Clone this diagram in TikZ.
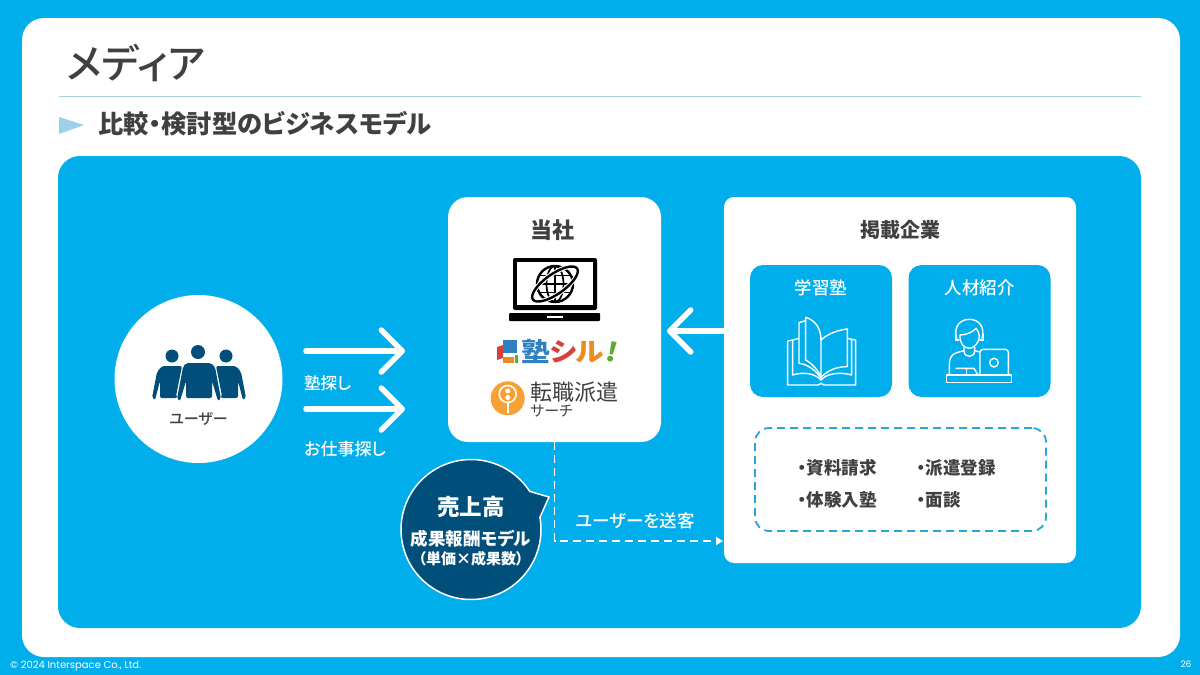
\documentclass[tikz,border=0pt]{standalone}
\usepackage{fontspec}
\usepackage{graphicx}
\setmainfont{Noto Sans CJK JP}[RawFeature={+palt}]
\newfontfamily\medfont{Noto Sans CJK JP Medium}[RawFeature={+palt}]
\newfontfamily\footfont{Poppins}
\usetikzlibrary{arrows.meta}
\definecolor{sky}{HTML}{00AEEB}
\definecolor{ink}{HTML}{404040}
\definecolor{navy}{HTML}{004E7A}
\definecolor{rulec}{HTML}{A6D0E0}
\definecolor{tric}{HTML}{9DCFEE}
\definecolor{dashc}{HTML}{27A6D8}
\definecolor{lblue}{HTML}{2F7FC1}
\definecolor{lred}{HTML}{D9403C}
\definecolor{lorange}{HTML}{EE8A22}
\definecolor{lgreen}{HTML}{5FA83A}
\definecolor{pinc}{HTML}{F7A033}
\newcommand\fsz[1]{\fontsize{#1}{#1}\selectfont}
\tikzset{
  box/.style={rectangle,fill=white,inner sep=0pt},
  bluebox/.style={rectangle,fill=sky,inner sep=0pt,rounded corners=13pt,minimum width=142pt,minimum height=132pt},
  lab/.style={inner sep=0pt,text=ink,font=\bfseries\fsz{#1}},
  wlab/.style={inner sep=0pt,text=white,font=\medfont\fsz{#1}},
  wbold/.style={inner sep=0pt,text=white,font=\bfseries\fsz{#1}},
  bigarrow/.style={draw=white,line width=5.5pt,line cap=round,line join=round,-{Straight Barb[length=21pt,width=42pt,round]}},
  sendline/.style={draw=white,line width=1.9pt,dash pattern=on 8pt off 5pt,-{Triangle[length=7pt,width=8pt]}},
  iconline/.style={draw=white,line width=1.4pt,line join=round,line cap=round},
}
\begin{document}
\begin{tikzpicture}[x=1pt,y=-1pt]
\useasboundingbox (0,0) rectangle (1200,675);
\fill[sky] (0,0) rectangle (1200,675);
\node[box,rounded corners=22pt,minimum width=1158pt,minimum height=639pt] (sheet) at (601,337.5) {};
\node[rectangle,fill=sky,inner sep=0pt,rounded corners=22pt,minimum width=1083pt,minimum height=472pt] (stage) at (599.5,392) {};
% header
\node[inner sep=0pt,text=ink,font=\medfont\fsz{40}] (title) at (136,63) {メディア};
\coordinate (ruleL) at (59,96);
\coordinate (ruleR) at (1141,96);
\draw[rulec,line width=1pt] (ruleL) -- (ruleR);
\fill[tric] (59,117) -- (84,125) -- (59,134) -- cycle;
\node[lab=25.3,anchor=west] (sub) at (98,124) {比較・検討型のビジネスモデル};
% user
\node[circle,fill=white,inner sep=0pt,minimum size=168pt] (user) at (198.5,379) {};
\begin{scope}[fill=navy]
\fill (198,352) circle (7);
\fill (172,356) circle (6.5);
\fill (226,356) circle (6.5);
\fill[rounded corners=2pt] (186,363) -- (211,363) -- (215,367) -- (221,399) -- (218,401) -- (212,381) -- (212,398) -- (186,398) -- (186,381) -- (180,401) -- (177,399) -- (183,367) -- cycle;
\fill[rounded corners=2pt] (162,366) -- (182,366) -- (176,396) -- (177,398) -- (160,398) -- (160,381) -- (155,400) -- (152,398) -- (157,372) -- cycle;
\fill[rounded corners=2pt] (236,366) -- (216,366) -- (222,396) -- (221,398) -- (238,398) -- (238,381) -- (243,400) -- (246,398) -- (241,372) -- cycle;
\end{scope}
\node[inner sep=0pt,text=ink,font=\medfont\fsz{15}] (userlab) at (198.5,419) {ユーザー};
% arrows user to company
\coordinate (a1s) at (306,351);
\coordinate (a1e) at (405,351);
\coordinate (a2s) at (306,409);
\coordinate (a2e) at (405,409);
\draw[bigarrow] (a1s) -- (a1e);
\draw[bigarrow] (a2s) -- (a2e);
\node[wlab=16.5,anchor=west] (l1) at (304,383) {塾探し};
\node[wlab=17,anchor=west] (l2) at (304,449) {お仕事探し};
% company
\node[box,rounded corners=20pt,minimum width=213pt,minimum height=245pt] (own) at (554.5,319.5) {};
\node[lab=22] (ownlab) at (552,230) {当社};
% laptop
\fill[black,rounded corners=2pt] (513,258) rectangle (597,310);
\fill[white] (517,262) rectangle (593,305);
\fill[black,rounded corners=1pt] (509,313) rectangle (600,321);
\fill[white] (547,316) rectangle (563,318);
\begin{scope}[shift={(555,284)}]
\draw[black,line width=2.4pt] (0,0) circle (18);
\draw[black,line width=1.7pt] (0,0) ellipse (8.5 and 18);
\draw[black,line width=1.7pt] (0,-18) -- (0,18) (-18,0) -- (18,0) (-15.5,-8.5) -- (15.5,-8.5) (-15.5,8.5) -- (15.5,8.5);
\draw[white,line width=4.5pt,rotate=35] (0,0) ellipse (27 and 10);
\draw[black,line width=2.4pt,rotate=35] (0,0) ellipse (27 and 10);
\end{scope}
% juku logo
\fill[lred] (497,347) -- (503,345) -- (503,358) -- (497,360) -- cycle;
\fill[lblue] (503,340) rectangle (517,353);
\fill[lorange] (503,357) rectangle (514,363);
\fill[lgreen] (515,355) rectangle (517.5,363);
\node[inner sep=0pt,anchor=west,font=\bfseries\fsz{26}] (juku) at (521,351.5) {\scalebox{1.1}[1]{\textcolor{lblue}{塾}\textcolor{lred}{シ}\textcolor{lorange}{ル}\rotatebox[origin=c]{-12}{\textcolor{lgreen}{!}}}};
% tenshoku logo
\fill[pinc] (507.7,398.3) circle (17);
\draw[white,line width=1.6pt] (507.7,394) circle (8.5);
\draw[white,line width=1.6pt] (507.7,402.5) -- (507.7,413);
\fill[white] (507.7,391) circle (2.5);
\fill[white] (507.7,397.5) circle (2.5);
\node[inner sep=0pt,anchor=west,text=ink,font=\fsz{22}] (ten1) at (530,392) {転職派遣};
\node[inner sep=0pt,anchor=west,text=ink,font=\fsz{15}] (ten2) at (530,411) {サーチ};
% advertisers
\node[box,rounded corners=10pt,minimum width=352pt,minimum height=366pt] (adv) at (900,380) {};
\node[lab=20] (advlab) at (900,230) {掲載企業};
\node[bluebox] (juk) at (821,331) {};
\node[bluebox] (jin) at (979.5,331) {};
\node[wlab=17.5] (juklab) at (821,288) {学習塾};
\node[wlab=17.5] (jinlab) at (979.5,288) {人材紹介};
% book icon
\begin{scope}[shift={(740,260)},x=0.3333pt,y=-0.3333pt,iconline]
\draw (243,352) -- (243,240) .. controls (243,205) and (225,180) .. (197,172) -- (197,300) .. controls (215,310) and (235,330) .. (243,352);
\draw (197,182) -- (177,188) -- (177,310) .. controls (200,312) and (228,330) .. (243,355);
\draw (177,235) -- (158,240) -- (158,345) .. controls (190,335) and (225,340) .. (243,360) .. controls (260,340) and (300,335) .. (335,345) -- (335,238) -- (322,235);
\draw (158,240) -- (143,243) -- (143,375) -- (235,375) -- (243,370) -- (252,375) -- (347,375) -- (347,240) -- (335,238);
\draw (243,240) .. controls (265,220) and (295,210) .. (322,207) -- (322,320) .. controls (290,320) and (265,330) .. (243,352);
\end{scope}
% person icon
\begin{scope}[shift={(740,260)},x=0.3333pt,y=-0.3333pt,iconline]
\draw (650,235) .. controls (640,200) and (660,178) .. (688,178) .. controls (716,178) and (736,200) .. (726,235);
\draw (660,225) .. controls (680,225) and (700,215) .. (708,205) .. controls (715,215) and (718,220) .. (718,228) .. controls (718,250) and (700,265) .. (688,265) .. controls (672,265) and (658,250) .. (660,225);
\draw (646,222) -- (646,240) -- (656,240) (730,222) -- (730,240) -- (720,240);
\draw (672,262) -- (672,272) .. controls (672,295) and (704,295) .. (704,272) -- (704,262);
\draw (672,272) -- (650,278) .. controls (635,282) and (628,295) .. (628,315) -- (628,345);
\draw (704,272) -- (720,276);
\draw (648,325) -- (702,325) -- (714,345);
\draw (680,325) -- (680,345);
\draw[rounded corners=3pt] (720,345) -- (720,268) -- (805,268) -- (805,345);
\draw (762,308) circle (13);
\draw (620,345) rectangle (815,368);
\end{scope}
% dashed list box
\node[rectangle,draw=dashc,line width=1.8pt,dash pattern=on 8pt off 5pt,rounded corners=14pt,inner sep=0pt,minimum width=291pt,minimum height=103pt] (list) at (900.5,479.5) {};
\node[lab=17.5,anchor=west] (i1) at (798,468) {・資料請求};
\node[lab=17.5,anchor=west] (i2) at (798,500) {・体験入塾};
\node[lab=17.5,anchor=west] (i3) at (917,468) {・派遣登録};
\node[lab=17.5,anchor=west] (i4) at (917,500) {・面談};
% left arrow
\coordinate (leftTip) at (667,331);
\draw[bigarrow] (adv.west |- leftTip) -- (leftTip);
% send line
\coordinate (sendEnd) at (723,541);
\draw[sendline] (own.south) |- (sendEnd);
\node[wlab=17.5] (sendlab) at (635,521) {ユーザーを送客};
% bubble
\draw[fill=navy,draw=white,line width=1.5pt,line join=miter]
  plot[domain=33:370,samples=120] ({471+70*cos(\x)},{529.5-70*sin(\x)}) -- (549,497) -- cycle;
\node[wbold=22.5] (b1) at (471,507) {売上高};
\node[wbold=17.5] (b2) at (471,539) {成果報酬モデル};
\node[wbold=15] (b3) at (471,559) {（単価×成果数）};
% footer
\node[inner sep=0pt,anchor=west,text=white,font=\footfont\fsz{10}] (copy) at (10,666) {© 2024 Interspace Co., Ltd.};
\node[inner sep=0pt,text=white,font=\footfont\fsz{9}] (page) at (1186,664) {26};
\end{tikzpicture}
\end{document}
